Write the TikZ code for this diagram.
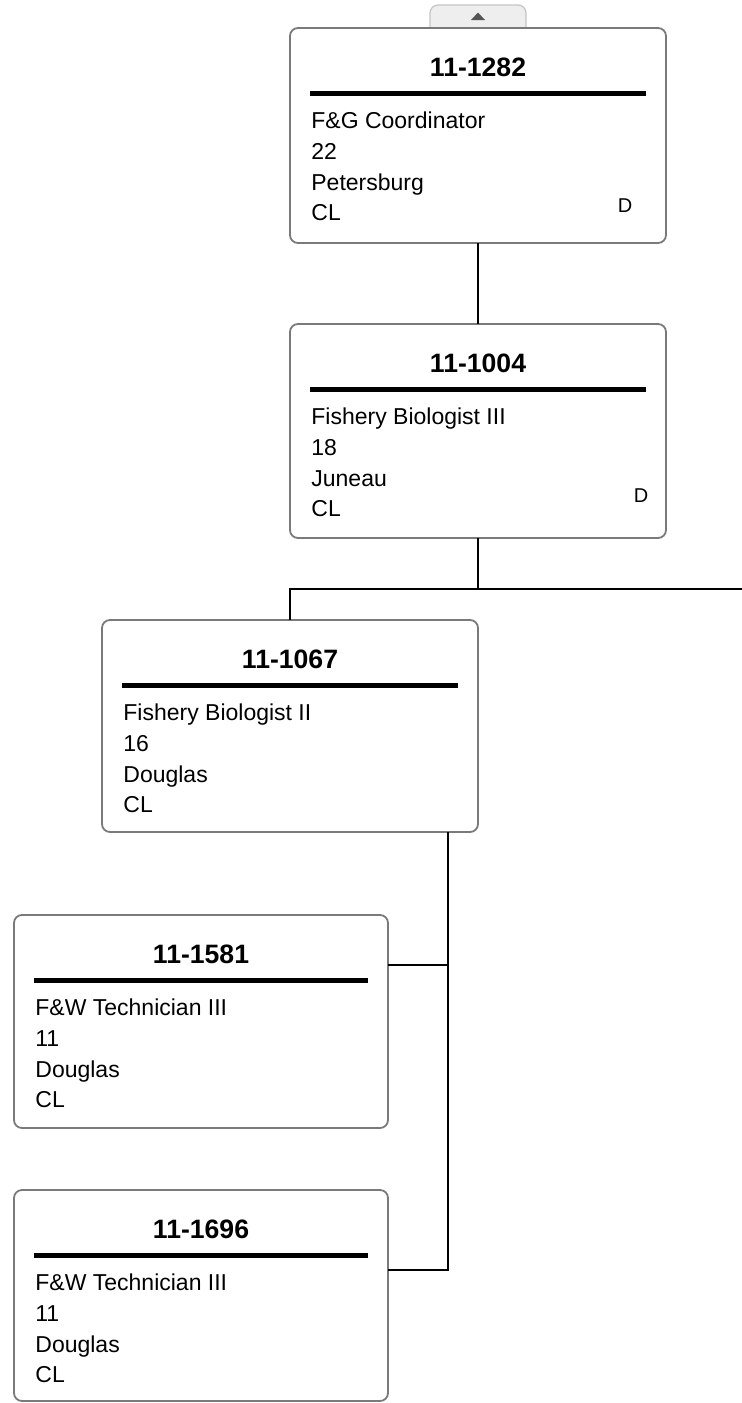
\documentclass[tikz,border=0pt]{standalone}
\usepackage{fontspec}
\setmainfont{Liberation Sans}
\usepackage{tikz}
\usetikzlibrary{calc}
\definecolor{frame}{HTML}{7A7A7A}
\definecolor{tabfill}{HTML}{EEEEEE}
\definecolor{tabline}{HTML}{C4C4C4}
\definecolor{tabmark}{HTML}{555555}

\begin{document}
\begin{tikzpicture}[
  x=0.5pt, y=-0.5pt,
  posbox/.style={rectangle, rounded corners=4pt, draw=frame, line width=0.9pt,
                 fill=white, minimum width=188pt, minimum height=107pt,
                 inner sep=0pt, outer sep=0pt, anchor=north west},
  ttl/.style={font=\fontsize{13.3}{16}\selectfont\bfseries, anchor=base, inner sep=0pt},
  info/.style={font=\fontsize{11.5}{14}\selectfont, anchor=base west, inner sep=0pt},
  flag/.style={font=\fontsize{10}{12}\selectfont, anchor=base, inner sep=0pt},
  rule/.style={line width=2.5pt},
  link/.style={line width=1pt, draw=black},
]
\useasboundingbox (0,0) rectangle (742,1403);
% ---------------- collapse tab
\filldraw[fill=tabfill, draw=tabline, line width=0.6pt, rounded corners=4pt]
  (430,29) -- (430,5) -- (526,5) -- (526,29);
\fill[tabmark] (471,20) -- (485,20) -- (478,12.5) -- cycle;
% ---------------- 11-1282
\node[posbox, minimum height=107.5pt] (p1282) at (290,28) {};
\node[ttl] (t1282) at ([yshift=-24pt]p1282.north) {11-1282};
\draw[rule] ([xshift=10pt,yshift=-32.5pt]p1282.north west) -- ([xshift=-10pt,yshift=-32.5pt]p1282.north east);
\foreach \t [count=\i] in {F\&G Coordinator, 22, Petersburg, CL}
  {\node[info] (l1282-\i) at ([xshift=10.5pt,yshift={-50.25pt-(\i-1)*15.4pt}]p1282.north west) {\t};}
\node[flag] (d1282) at ([xshift=167.5pt,yshift=-92pt]p1282.north west) {D};
% ---------------- 11-1004
\node[posbox] (p1004) at (290,324) {};
\node[ttl] (t1004) at ([yshift=-24pt]p1004.north) {11-1004};
\draw[rule] ([xshift=10pt,yshift=-32.5pt]p1004.north west) -- ([xshift=-10pt,yshift=-32.5pt]p1004.north east);
\foreach \t [count=\i] in {Fishery Biologist III, 18, Juneau, CL}
  {\node[info] (l1004-\i) at ([xshift=10.5pt,yshift={-50.25pt-(\i-1)*15.4pt}]p1004.north west) {\t};}
\node[flag] (d1004) at ([xshift=175.5pt,yshift=-89.3pt]p1004.north west) {D};
% ---------------- 11-1067
\node[posbox, minimum height=106pt] (p1067) at (102,620) {};
\node[ttl] (t1067) at ([yshift=-24pt]p1067.north) {11-1067};
\draw[rule] ([xshift=10pt,yshift=-32.5pt]p1067.north west) -- ([xshift=-10pt,yshift=-32.5pt]p1067.north east);
\foreach \t [count=\i] in {Fishery Biologist II, 16, Douglas, CL}
  {\node[info] (l1067-\i) at ([xshift=10.5pt,yshift={-50.25pt-(\i-1)*15.4pt}]p1067.north west) {\t};}
% ---------------- 11-1581
\node[posbox, minimum width=187pt, minimum height=106.5pt] (p1581) at (14,915) {};
\node[ttl] (t1581) at ([yshift=-24pt]p1581.north) {11-1581};
\draw[rule] ([xshift=10pt,yshift=-32.5pt]p1581.north west) -- ([xshift=-10pt,yshift=-32.5pt]p1581.north east);
\foreach \t [count=\i] in {F\&W Technician III, 11, Douglas, CL}
  {\node[info] (l1581-\i) at ([xshift=10.5pt,yshift={-50.25pt-(\i-1)*15.4pt}]p1581.north west) {\t};}
% ---------------- 11-1696
\node[posbox, minimum width=187pt, minimum height=105.5pt] (p1696) at (14,1190) {};
\node[ttl] (t1696) at ([yshift=-24pt]p1696.north) {11-1696};
\draw[rule] ([xshift=10pt,yshift=-32.5pt]p1696.north west) -- ([xshift=-10pt,yshift=-32.5pt]p1696.north east);
\foreach \t [count=\i] in {F\&W Technician III, 11, Douglas, CL}
  {\node[info] (l1696-\i) at ([xshift=10.5pt,yshift={-50.25pt-(\i-1)*15.4pt}]p1696.north west) {\t};}
% ---------------- connectors
\coordinate (split) at (478,589);
\coordinate (offright) at (742,589);
\coordinate (stem) at ([xshift=79pt]p1067.south);
\coordinate (b1581) at ([yshift=-25pt]p1581.north east);
\coordinate (b1696) at ([yshift=-40pt]p1696.north east);
\draw[link] (p1282.south) -- (p1004.north);
\draw[link] (p1004.south) -- (split);
\draw[link] (offright) -| (p1067.north);
\draw[link] (stem) |- (b1696);
\draw[link] (b1581) -- (b1581 -| stem);
\end{tikzpicture}
\end{document}
